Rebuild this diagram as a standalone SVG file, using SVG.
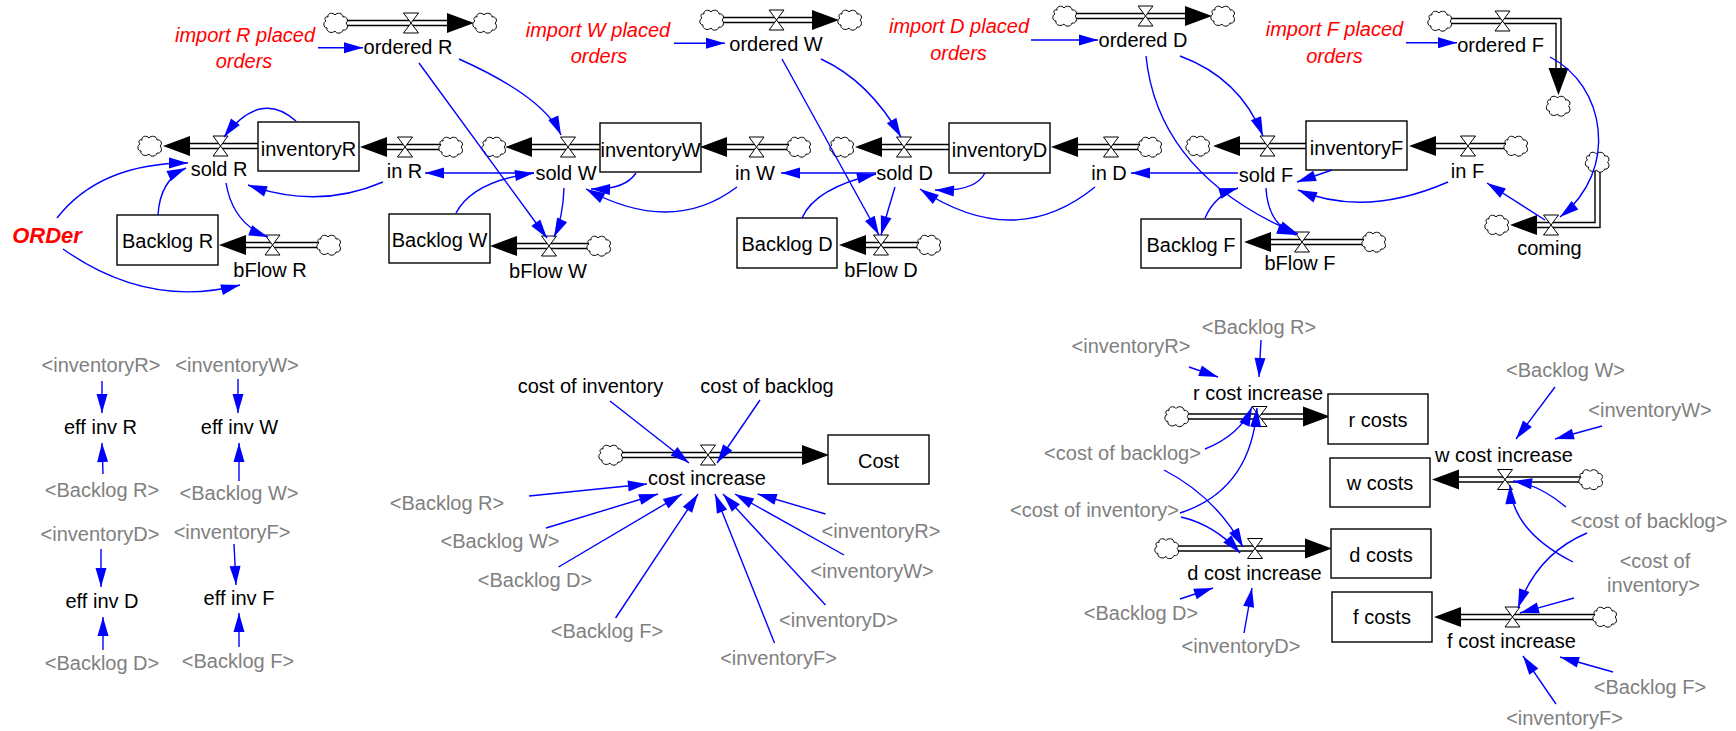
<svg xmlns="http://www.w3.org/2000/svg" width="1736" height="731" viewBox="0 0 1736 731">
<defs>
<style>
text{font-family:"Liberation Sans",Arial,sans-serif;font-size:20px;text-anchor:middle;fill:#000}
.gr{fill:#808080}
.rd{fill:#ff0000;font-style:italic}
.bd{font-weight:bold;font-size:22px}
.box{fill:#fff;stroke:#000;stroke-width:1.4}
.po{fill:none;stroke:#000;stroke-width:6.4;stroke-linejoin:miter}
.pi{fill:none;stroke:#fff;stroke-width:3.6;stroke-linejoin:miter;marker-end:url(#fh)}
.lk{fill:none;stroke:#0000ff;stroke-width:1.4;marker-end:url(#ah)}
.vl{fill:#fff;stroke:#000;stroke-width:1}
.cl{fill:#fff;stroke:#000;stroke-width:1}
</style>
<marker id="ah" markerUnits="userSpaceOnUse" markerWidth="20" markerHeight="12" refX="19" refY="6" orient="auto" overflow="visible"><path d="M0,0.5 L19,6 L0,11.5 Z" fill="#0000ff"/></marker>
<marker id="fh" markerUnits="userSpaceOnUse" markerWidth="28" markerHeight="20" refX="0" refY="10" orient="auto" overflow="visible"><path d="M0,0 L27,10 L0,20 Z" fill="#000"/></marker>
<path id="cloud" class="cl" d="M-8,-6 C-9,-10 -3,-11 -1,-8 C1,-11 7,-10 7,-6 C11,-7 13,-2 10,0 C13,3 11,8 7,7 C6,11 0,11 -1,8 C-4,11 -10,9 -9,5 C-13,5 -13,-1 -10,-2 C-12,-4 -11,-7 -8,-6 Z"/>
<path id="valve" class="vl" d="M-7.5,-10 L7.5,-10 L-7.5,10 L7.5,10 Z"/>
</defs>
<rect width="1736" height="731" fill="#fff"/>

<!-- flows -->
<g id="ordered_R"><path class="po" d="M336,23 H447"/><path class="pi" d="M336,23 H447"/><use href="#cloud" x="336" y="23"/><use href="#cloud" x="485" y="23"/><use href="#valve" x="411" y="23"/><text x="408" y="54">ordered R</text></g>
<g id="ordered_W"><path class="po" d="M712,20 H812"/><path class="pi" d="M712,20 H812"/><use href="#cloud" x="712" y="20"/><use href="#cloud" x="850" y="20"/><use href="#valve" x="776.5" y="20"/><text x="776" y="51">ordered W</text></g>
<g id="ordered_D"><path class="po" d="M1065,16 H1185"/><path class="pi" d="M1065,16 H1185"/><use href="#cloud" x="1065" y="16"/><use href="#cloud" x="1223" y="16"/><use href="#valve" x="1145.5" y="16"/><text x="1143" y="47">ordered D</text></g>
<g id="ordered_F"><path class="po" d="M1440,21 H1558.5 V68"/><path class="pi" d="M1440,21 H1558.5 V68"/><use href="#cloud" x="1440" y="21"/><use href="#cloud" x="1558.5" y="106"/><use href="#valve" x="1502.5" y="21"/><text x="1500.5" y="52">ordered F</text></g>
<g id="sold_R"><path class="po" d="M258,146 H190"/><path class="pi" d="M258,146 H190"/><use href="#cloud" x="150" y="146"/><use href="#valve" x="220.5" y="146"/><text x="219" y="176">sold R</text></g>
<g id="in_R"><path class="po" d="M451,147 H387"/><path class="pi" d="M451,147 H387"/><use href="#cloud" x="451" y="147"/><use href="#valve" x="405" y="147"/><text x="404.5" y="178">in R</text></g>
<g id="sold_W"><path class="po" d="M600,147 H532"/><path class="pi" d="M600,147 H532"/><use href="#cloud" x="494" y="147"/><use href="#valve" x="568" y="147"/><text x="566" y="180">sold W</text></g>
<g id="in_W"><path class="po" d="M799,147 H727"/><path class="pi" d="M799,147 H727"/><use href="#cloud" x="799" y="147"/><use href="#valve" x="756.5" y="147"/><text x="755" y="180">in W</text></g>
<g id="sold_D"><path class="po" d="M949,147 H882"/><path class="pi" d="M949,147 H882"/><use href="#cloud" x="842" y="147"/><use href="#valve" x="904" y="147"/><text x="904.5" y="180">sold D</text></g>
<g id="in_D"><path class="po" d="M1150,147 H1078"/><path class="pi" d="M1150,147 H1078"/><use href="#cloud" x="1150" y="147"/><use href="#valve" x="1111" y="147"/><text x="1109" y="180">in D</text></g>
<g id="sold_F"><path class="po" d="M1306,146 H1240"/><path class="pi" d="M1306,146 H1240"/><use href="#cloud" x="1198" y="146"/><use href="#valve" x="1267.5" y="146"/><text x="1266" y="182">sold F</text></g>
<g id="in_F"><path class="po" d="M1516,146 H1436"/><path class="pi" d="M1516,146 H1436"/><use href="#cloud" x="1516" y="146"/><use href="#valve" x="1468" y="146"/><text x="1467.5" y="178">in F</text></g>
<g id="bFlow_R"><path class="po" d="M329,245 H246"/><path class="pi" d="M329,245 H246"/><use href="#cloud" x="329" y="245"/><use href="#valve" x="272.5" y="245"/><text x="270" y="277">bFlow R</text></g>
<g id="bFlow_W"><path class="po" d="M599,246 H517"/><path class="pi" d="M599,246 H517"/><use href="#cloud" x="599" y="246"/><use href="#valve" x="549" y="246"/><text x="548" y="278">bFlow W</text></g>
<g id="bFlow_D"><path class="po" d="M929,245 H866"/><path class="pi" d="M929,245 H866"/><use href="#cloud" x="929" y="245"/><use href="#valve" x="881" y="245"/><text x="881" y="277">bFlow D</text></g>
<g id="bFlow_F"><path class="po" d="M1374,242 H1271"/><path class="pi" d="M1374,242 H1271"/><use href="#cloud" x="1374" y="242"/><use href="#valve" x="1302" y="242"/><text x="1300" y="270">bFlow F</text></g>
<g id="coming"><path class="po" d="M1597.5,162 V225 H1537"/><path class="pi" d="M1597.5,162 V225 H1537"/><use href="#cloud" x="1597.5" y="162"/><use href="#cloud" x="1497" y="225"/><use href="#valve" x="1551" y="225"/><text x="1549.5" y="255">coming</text></g>
<g id="cost_increase"><path class="po" d="M611,455 H802"/><path class="pi" d="M611,455 H802"/><use href="#cloud" x="611" y="455"/><use href="#valve" x="708" y="455"/><text x="707" y="485">cost increase</text></g>
<g id="r_cost_increase"><path class="po" d="M1177,416.5 H1303"/><path class="pi" d="M1177,416.5 H1303"/><use href="#cloud" x="1177" y="416.5"/><use href="#valve" x="1259.5" y="416.5"/><text x="1258" y="400">r cost increase</text></g>
<g id="d_cost_increase"><path class="po" d="M1167,548.5 H1305"/><path class="pi" d="M1167,548.5 H1305"/><use href="#cloud" x="1167" y="548.5"/><use href="#valve" x="1255" y="548.5"/><text x="1254.5" y="580">d cost increase</text></g>
<g id="w_cost_increase"><path class="po" d="M1591,479.5 H1459"/><path class="pi" d="M1591,479.5 H1459"/><use href="#cloud" x="1591" y="479.5"/><use href="#valve" x="1505" y="479.5"/><text x="1504" y="462">w cost increase</text></g>
<g id="f_cost_increase"><path class="po" d="M1605,617 H1461"/><path class="pi" d="M1605,617 H1461"/><use href="#cloud" x="1605" y="617"/><use href="#valve" x="1512.5" y="617"/><text x="1511.5" y="648">f cost increase</text></g>

<!-- stocks -->
<g id="inventoryR"><rect class="box" x="258" y="122" width="101" height="49"/><text x="308.5" y="156">inventoryR</text></g>
<g id="inventoryW"><rect class="box" x="600" y="123" width="101" height="49"/><text x="650.5" y="157">inventoryW</text></g>
<g id="inventoryD"><rect class="box" x="949" y="123" width="101" height="50"/><text x="999.5" y="157">inventoryD</text></g>
<g id="inventoryF"><rect class="box" x="1306" y="121" width="101" height="49"/><text x="1356.5" y="155">inventoryF</text></g>
<g id="Backlog_R"><rect class="box" x="117" y="215" width="101" height="50"/><text x="167.5" y="248">Backlog R</text></g>
<g id="Backlog_W"><rect class="box" x="389" y="214" width="101" height="49"/><text x="439.5" y="247">Backlog W</text></g>
<g id="Backlog_D"><rect class="box" x="737" y="218" width="100" height="50"/><text x="787" y="251">Backlog D</text></g>
<g id="Backlog_F"><rect class="box" x="1141" y="219" width="100" height="49"/><text x="1191" y="252">Backlog F</text></g>
<g id="Cost"><rect class="box" x="828" y="435" width="101" height="49"/><text x="878.5" y="468">Cost</text></g>
<g id="r_costs"><rect class="box" x="1328" y="394" width="100" height="50"/><text x="1378" y="427">r costs</text></g>
<g id="w_costs"><rect class="box" x="1330" y="458" width="100" height="49"/><text x="1380" y="490">w costs</text></g>
<g id="d_costs"><rect class="box" x="1331" y="529" width="100" height="49"/><text x="1381" y="562">d costs</text></g>
<g id="f_costs"><rect class="box" x="1332" y="592" width="100" height="50"/><text x="1382" y="624">f costs</text></g>

<!-- auxiliaries -->
<g id="import_R"><text class="rd" x="245" y="42">import R placed</text><text class="rd" x="244" y="68">orders</text></g>
<g id="import_W"><text class="rd" x="598" y="37">import W placed</text><text class="rd" x="599" y="63">orders</text></g>
<g id="import_D"><text class="rd" x="959" y="33">import D placed</text><text class="rd" x="958.5" y="60">orders</text></g>
<g id="import_F"><text class="rd" x="1334.5" y="36">import F placed</text><text class="rd" x="1334.5" y="63">orders</text></g>
<g id="ORDer"><text class="rd bd" x="47" y="243">ORDer</text></g>

<g id="eff_inv_R"><text class="gr" x="101" y="372">&lt;inventoryR&gt;</text><text x="100.5" y="434">eff inv R</text><text class="gr" x="102" y="497">&lt;Backlog R&gt;</text></g>
<g id="eff_inv_W"><text class="gr" x="237" y="372">&lt;inventoryW&gt;</text><text x="239.5" y="434">eff inv W</text><text class="gr" x="239" y="500">&lt;Backlog W&gt;</text></g>
<g id="eff_inv_D"><text class="gr" x="100" y="541">&lt;inventoryD&gt;</text><text x="102" y="608">eff inv D</text><text class="gr" x="102" y="670">&lt;Backlog D&gt;</text></g>
<g id="eff_inv_F"><text class="gr" x="232" y="539">&lt;inventoryF&gt;</text><text x="239" y="605">eff inv F</text><text class="gr" x="238" y="668">&lt;Backlog F&gt;</text></g>

<g id="cost_inputs">
<text x="590.5" y="393">cost of inventory</text>
<text x="767" y="393">cost of backlog</text>
<text class="gr" x="447" y="510">&lt;Backlog R&gt;</text>
<text class="gr" x="500" y="548">&lt;Backlog W&gt;</text>
<text class="gr" x="535" y="587">&lt;Backlog D&gt;</text>
<text class="gr" x="607" y="638">&lt;Backlog F&gt;</text>
<text class="gr" x="778.5" y="665">&lt;inventoryF&gt;</text>
<text class="gr" x="838.5" y="627">&lt;inventoryD&gt;</text>
<text class="gr" x="872" y="578">&lt;inventoryW&gt;</text>
<text class="gr" x="881" y="538">&lt;inventoryR&gt;</text>
</g>
<g id="rd_inputs">
<text class="gr" x="1259" y="334">&lt;Backlog R&gt;</text>
<text class="gr" x="1131" y="353">&lt;inventoryR&gt;</text>
<text class="gr" x="1122.5" y="460">&lt;cost of backlog&gt;</text>
<text class="gr" x="1094.5" y="517">&lt;cost of inventory&gt;</text>
<text class="gr" x="1141" y="620">&lt;Backlog D&gt;</text>
<text class="gr" x="1241" y="653">&lt;inventoryD&gt;</text>
</g>
<g id="wf_inputs">
<text class="gr" x="1565.5" y="377">&lt;Backlog W&gt;</text>
<text class="gr" x="1650" y="417">&lt;inventoryW&gt;</text>
<text class="gr" x="1649" y="528">&lt;cost of backlog&gt;</text>
<text class="gr" x="1655" y="568">&lt;cost of</text>
<text class="gr" x="1653.5" y="592">inventory&gt;</text>
<text class="gr" x="1650" y="694">&lt;Backlog F&gt;</text>
<text class="gr" x="1564.5" y="725">&lt;inventoryF&gt;</text>
</g>

<!-- connectors -->
<g id="connectors">
<path class="lk" d="M318,47.7 L363,47.7"/>
<path class="lk" d="M674,43.3 L725,43.3"/>
<path class="lk" d="M1031,40 L1098,40"/>
<path class="lk" d="M1406,42.7 L1457,42.7"/>
<path class="lk" d="M296,121 Q260,89 224,137"/>
<path class="lk" d="M57,218 Q100,163 188,163"/>
<path class="lk" d="M63,249 Q148,309 240,285"/>
<path class="lk" d="M158,215 Q160,180 186,168"/>
<path class="lk" d="M383,182 Q318,210 248,185"/>
<path class="lk" d="M226,183 Q233,224 268,237"/>
<path class="lk" d="M534,173 L425,173"/>
<path class="lk" d="M456,213 Q473,181 534,173"/>
<path class="lk" d="M459,59 Q544,97 561,135"/>
<path class="lk" d="M419,63 L547,238"/>
<path class="lk" d="M636,173 Q625,190 591,189"/>
<path class="lk" d="M737,187 Q672,236 586,189"/>
<path class="lk" d="M564,188 Q563,218 554,237"/>
<path class="lk" d="M876,173 L781,173"/>
<path class="lk" d="M802,218 Q815,188 876,174"/>
<path class="lk" d="M821,59 Q869,81 901,137"/>
<path class="lk" d="M782,59 L879,235"/>
<path class="lk" d="M895,187 Q888,210 881,235"/>
<path class="lk" d="M985,173 Q975,192 935,190"/>
<path class="lk" d="M1095,187 Q1015,252 920,189"/>
<path class="lk" d="M1238,173 L1131,173"/>
<path class="lk" d="M1180,56 Q1240,78 1263,136"/>
<path class="lk" d="M1146,56 Q1158,175 1298,234"/>
<path class="lk" d="M1205,218 Q1215,195 1238,188"/>
<path class="lk" d="M1266,188 Q1268,225 1296,235"/>
<path class="lk" d="M1332,170 L1297,182"/>
<path class="lk" d="M1448,182 Q1365,218 1298,190"/>
<path class="lk" d="M1545,220 L1487,183"/>
<path class="lk" d="M1550,57 C1605,85 1620,170 1560,217"/>
<path class="lk" d="M102,381 L102,413"/>
<path class="lk" d="M103,474 L102,443"/>
<path class="lk" d="M238,379 L238,413"/>
<path class="lk" d="M239,481 L239,443"/>
<path class="lk" d="M101,549 L101,587"/>
<path class="lk" d="M103,650 L103,617"/>
<path class="lk" d="M234,544 L236,585"/>
<path class="lk" d="M239,647 L239,613"/>
<path class="lk" d="M610,401 L689,463"/>
<path class="lk" d="M760,400 L717,463"/>
<path class="lk" d="M529,496 L647,484"/>
<path class="lk" d="M546,528 L658,494"/>
<path class="lk" d="M558.5,567 L682,494"/>
<path class="lk" d="M615.6,618 L698,494"/>
<path class="lk" d="M774.5,643 L715,494"/>
<path class="lk" d="M825.5,605 L723,494"/>
<path class="lk" d="M844,555 L735,494"/>
<path class="lk" d="M825.5,514 L757.7,494"/>
<path class="lk" d="M1261,340 L1259,377"/>
<path class="lk" d="M1189,367 L1218,377"/>
<path class="lk" d="M1205,449 Q1240,435 1252,407"/>
<path class="lk" d="M1164,470 Q1216,497 1243,547"/>
<path class="lk" d="M1180,513 Q1251,490 1257,408"/>
<path class="lk" d="M1181,517 Q1215,525 1240,553"/>
<path class="lk" d="M1180,599 L1213,588"/>
<path class="lk" d="M1244,633 L1252,588"/>
<path class="lk" d="M1555,387 L1516,439"/>
<path class="lk" d="M1602,426 L1555,439"/>
<path class="lk" d="M1566,507 Q1540,485 1513,481"/>
<path class="lk" d="M1587,533 Q1537,554 1518,608"/>
<path class="lk" d="M1573,562 Q1512,531 1510,485"/>
<path class="lk" d="M1574,598 L1520,613"/>
<path class="lk" d="M1613,672 L1560,657"/>
<path class="lk" d="M1556,704 L1523,656"/>
</g>
</svg>
